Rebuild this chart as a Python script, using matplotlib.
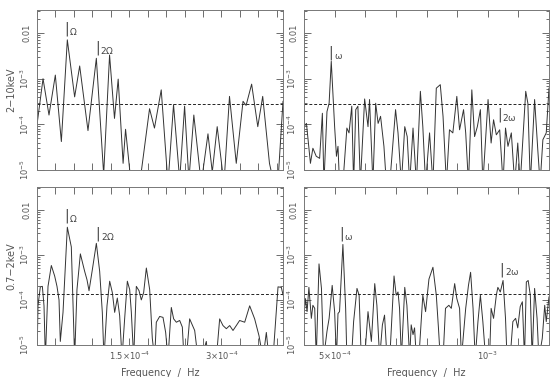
import numpy as np
import matplotlib
matplotlib.use('Agg')
import matplotlib.pyplot as plt
from matplotlib.ticker import FixedLocator, MultipleLocator, LogLocator, NullFormatter

# frequencies in units of 1e-4 Hz, power (5e-6 = below the axis)
f_hard_orb = [0.0, 0.098, 0.195, 0.298, 0.396, 0.493, 0.612, 0.694, 0.829, 0.965, 1.084, 1.18,
              1.26, 1.32, 1.40, 1.44, 1.53, 1.67, 1.83, 1.91, 2.02, 2.13, 2.22, 2.32, 2.40, 2.47,
              2.55, 2.67, 2.78, 2.85, 2.93, 3.04, 3.13, 3.24, 3.35, 3.40, 3.49, 3.59, 3.67, 3.78,
              3.84, 3.92, 4.0]
p_hard_orb = [9.8e-5, 1.0e-3, 1.6e-4, 1.2e-3, 4.2e-5, 7.1e-3, 4.0e-4, 1.9e-3, 7.3e-5, 2.8e-3, 8e-6, 3.3e-3,
              1.35e-4, 9.8e-4, 1.4e-5, 7.8e-5, 5e-6, 5e-6, 2.2e-4, 8.3e-5, 5.7e-4, 5e-6, 2.7e-4, 6e-6, 2.5e-4, 6e-6,
              1.6e-4, 5e-6, 6.2e-5, 9e-6, 8.9e-5, 5e-6, 4.1e-4, 1.4e-5, 3.2e-4, 2.6e-4, 7.6e-4, 8.9e-5, 4.1e-4, 1.4e-5,
              6e-6, 6e-6, 3.2e-4]

f_hard_spin = [4.00, 4.08, 4.21, 4.29, 4.40, 4.51, 4.60, 4.65, 4.75, 4.82, 4.89, 5.00, 5.06, 5.11, 5.16,
               5.27, 5.40, 5.47, 5.56, 5.62, 5.69, 5.76, 5.84, 5.98, 6.09, 6.14, 6.25, 6.34, 6.42, 6.50,
               6.61, 6.69, 6.80, 6.99, 7.07, 7.18, 7.29, 7.37, 7.45, 7.56, 7.67, 7.80, 7.88, 7.97, 8.10,
               8.21, 8.32, 8.45, 8.54, 8.65, 8.75, 8.86, 8.99, 9.08, 9.21, 9.28, 9.37, 9.48, 9.57, 9.66,
               9.76, 9.84, 10.01, 10.11, 10.19, 10.28, 10.39, 10.50, 10.58, 10.66, 10.77, 10.88, 10.98,
               11.06, 11.24, 11.31, 11.39, 11.53, 11.64, 11.71, 11.80, 11.91, 12.00]
p_hard_spin = [8.9e-5, 1.05e-4, 1.4e-5, 3.0e-5, 2.0e-5, 1.8e-5, 1.75e-4, 5e-6, 1.9e-4, 2.9e-4, 2.4e-3, 8.9e-5, 2.0e-5, 3.3e-5, 5e-6,
               5e-6, 8.3e-5, 6.5e-5, 2.5e-4, 5e-6, 2.1e-4, 2.5e-4, 5e-6, 3.6e-4, 8.9e-5, 3.5e-4, 5e-6, 2.9e-4, 1.05e-4, 1.5e-4,
               3.3e-5, 5e-6, 5e-6, 2.1e-4, 6.5e-5, 5e-6, 8.9e-5, 5.4e-5, 5e-6, 8.3e-5, 5e-6, 5.3e-4, 8.9e-5, 5e-6, 6.5e-5,
               5e-6, 6.2e-4, 7.4e-4, 1.5e-4, 5e-6, 7.6e-5, 6.5e-5, 4.1e-4, 7.6e-5, 2.1e-4, 6.5e-5, 5e-6, 5.7e-4, 5.4e-5, 8.9e-5,
               2.1e-4, 5e-6, 3.5e-4, 3.9e-5, 1.26e-4, 5.9e-5, 7.6e-5, 5e-6, 8.3e-5, 3.3e-5, 6.5e-5, 5e-6, 3.9e-5,
               5e-6, 5.3e-4, 2.9e-4, 5e-6, 3.5e-4, 2.4e-5, 5e-6, 4.6e-5, 6.5e-5, 6.2e-4]

f_soft_orb = [0.0, 0.016, 0.054, 0.087, 0.114, 0.136, 0.179, 0.233, 0.287, 0.325, 0.358, 0.379, 0.423,
              0.493, 0.558, 0.612, 0.650, 0.705, 0.775, 0.813, 0.846, 0.900, 0.965, 1.019, 1.062, 1.089,
              1.138, 1.182, 1.225, 1.263, 1.306, 1.344, 1.382, 1.425, 1.469, 1.507, 1.534, 1.572, 1.615,
              1.659, 1.696, 1.734, 1.778, 1.832, 1.875, 1.913, 1.940, 1.995, 2.049, 2.092, 2.130, 2.184,
              2.222, 2.266, 2.320, 2.363, 2.390, 2.428, 2.482, 2.564, 2.618, 2.672, 2.753, 2.780, 2.916,
              2.970, 3.024, 3.079, 3.133, 3.187, 3.241, 3.295, 3.377, 3.458, 3.539, 3.610, 3.675, 3.729,
              3.772, 3.837, 3.919, 3.973, 4.0]
p_soft_orb = [5e-6, 7.4e-5, 1.95e-4, 2.0e-4, 7.4e-5, 5e-6, 2.0e-4, 5.8e-4, 3.4e-4, 2.0e-4, 1.0e-4, 1.2e-5, 5.3e-5,
              4.1e-3, 1.5e-3, 5e-6, 1.7e-4, 1.05e-3, 4.3e-4, 2.8e-4, 1.6e-4, 4.7e-4, 1.8e-3, 4.3e-4, 5.3e-5, 5e-6,
              7.4e-5, 2.6e-4, 1.45e-4, 5.3e-5, 1.1e-4, 4.5e-5, 5e-6, 3.8e-5, 2.6e-4, 1.7e-4, 5.3e-5, 5e-6, 2.0e-4,
              1.6e-4, 1.0e-4, 1.45e-4, 5.1e-4, 1.7e-4, 1.4e-5, 5e-6, 3.2e-5, 4.3e-5, 4.1e-5, 1.9e-5, 5e-6, 6.8e-5,
              3.8e-5, 3.2e-5, 3.5e-5, 2.5e-5, 5e-6, 5e-6, 3.8e-5, 2.1e-5, 5e-6, 5e-6, 1.2e-5, 5e-6, 5e-6,
              3.8e-5, 2.7e-5, 2.3e-5, 2.7e-5, 2.1e-5, 2.7e-5, 3.5e-5, 3.2e-5, 7.4e-5, 3.8e-5, 1.6e-5, 5e-6, 1.9e-5,
              5e-6, 5e-6, 1.95e-4, 1.9e-4, 1.3e-4]

f_soft_spin = [4.00, 4.05, 4.10, 4.16, 4.24, 4.29, 4.35, 4.40, 4.49, 4.57, 4.64, 4.75, 4.82, 4.92, 5.00,
               5.06, 5.11, 5.16, 5.27, 5.36, 5.40, 5.55, 5.62, 5.73, 5.80, 5.87, 5.98, 6.09, 6.20, 6.31,
               6.38, 6.47, 6.56, 6.63, 6.71, 6.80, 6.94, 7.01, 7.07, 7.12, 7.18, 7.29, 7.36, 7.45, 7.50,
               7.56, 7.61, 7.67, 7.75, 7.88, 7.97, 8.08, 8.21, 8.32, 8.39, 8.45, 8.54, 8.62, 8.73, 8.81,
               8.92, 8.99, 9.08, 9.14, 9.28, 9.37, 9.44, 9.52, 9.59, 9.68, 9.76, 9.84, 9.93, 10.06, 10.11,
               10.19, 10.28, 10.33, 10.41, 10.50, 10.58, 10.63, 10.73, 10.82, 10.91, 10.98, 11.06, 11.13,
               11.20, 11.26, 11.32, 11.39, 11.45, 11.53, 11.61, 11.67, 11.78, 11.86, 11.91, 12.00]
p_soft_spin = [4.6e-5, 1.07e-4, 5.5e-5, 1.9e-4, 3.9e-5, 7.6e-5, 6.5e-5, 5e-6, 6.3e-4, 1.8e-4, 5e-6, 2.0e-5, 3.9e-5,
               2.1e-4, 5.5e-5, 5e-6, 5.0e-5, 5.5e-5, 1.7e-3, 6.5e-5, 5e-6, 5e-6, 3.3e-5, 1.8e-4, 1.27e-4, 5e-6,
               5e-6, 5.5e-5, 1.2e-5, 2.3e-4, 7.6e-5, 5e-6, 2.8e-5, 4.6e-5, 5e-6, 5e-6, 3.4e-4, 1.27e-4, 1.5e-4,
               6.5e-5, 5e-6, 1.9e-4, 7.6e-5, 5e-6, 2.8e-5, 1.7e-5, 2.4e-5, 5e-6, 5e-6, 1.27e-4, 5.5e-5, 2.9e-4,
               5.3e-4, 1.27e-4, 2.4e-5, 5e-6, 5e-6, 6.5e-5, 7.6e-5, 6.5e-5, 2.3e-4, 1.07e-4, 6.5e-5, 5e-6, 6.5e-5,
               2.1e-4, 4.1e-4, 6.5e-5, 5e-6, 3.3e-5, 1.27e-4, 3.3e-5, 5e-6, 5e-6, 6.5e-5, 3.9e-5, 1.27e-4, 1.9e-4,
               1.5e-4, 2.7e-4, 3.9e-5, 5e-6, 5e-6, 3.3e-5, 3.9e-5, 2.4e-5, 7.1e-5, 9.1e-5, 5e-6, 2.5e-4, 2.7e-4,
               1.27e-4, 5e-6, 1.8e-4, 3.9e-5, 5e-6, 1.4e-5, 7.6e-5, 3.3e-5, 1.17e-4]

level_hard = 2.8e-4
level_soft = 1.35e-4

band_labels = ['2\u221210keV', '0.7\u22122keV']
xlab = 'Frequency  /  Hz'

# (freq in 1e-4 Hz, power at foot of the bar, subscript)
notes_hard_orb = [(0.48, 1.0e-2, r'$\Omega$'), (0.98, 3.8e-3, r'$2\Omega$')]
notes_hard_spin = [(4.88, 2.9e-3, r'$\omega$'), (10.39, 1.3e-4, r'$2\omega$')]
notes_soft_orb = [(0.48, 5.8e-3, r'$\Omega$'), (0.99, 2.3e-3, r'$2\Omega$')]
notes_soft_spin = [(5.22, 2.3e-3, r'$\omega$'), (10.46, 3.8e-4, r'$2\omega$')]

grey = '#555555'
plt.rcParams['font.size'] = 6
plt.rcParams['text.color'] = grey
plt.rcParams['mathtext.default'] = 'regular'

fig = plt.figure(figsize=(5.5, 3.77), dpi=100)
W, H = 550.0, 377.0
boxes = [(37, 10, 246, 160), (304, 10, 245, 160), (37, 187, 246, 158), (304, 187, 245, 158)]
axs = [fig.add_axes([x / W, 1 - (y + h) / H, w / W, h / H]) for (x, y, w, h) in boxes]

series = [(f_hard_orb, p_hard_orb, level_hard, notes_hard_orb, (0, 4)),
          (f_hard_spin, p_hard_spin, level_hard, notes_hard_spin, (4, 12)),
          (f_soft_orb, p_soft_orb, level_soft, notes_soft_orb, (0, 4)),
          (f_soft_spin, p_soft_spin, level_soft, notes_soft_spin, (4, 12))]

def ylab_fmt(v, pos):
    if abs(v - 0.01) < 1e-9:
        return '0.01'
    return r'$10^{%d}$' % round(np.log10(v))

for i, ax in enumerate(axs):
    f, p, lev, notes, xr = series[i]
    ax.plot(np.array(f) * 1e-4, p, color='#333333', lw=0.7)
    ax.axhline(lev, color='#222222', lw=0.7, ls=(0, (3, 2)))
    for (nx, ny, sub) in notes:
        ax.annotate('|', (nx * 1e-4, ny), xytext=(0, -2), textcoords='offset points',
                    fontsize=10, color='#444444', ha='center', va='bottom')
        ax.annotate(sub, (nx * 1e-4, ny), xytext=(2, -2.5), textcoords='offset points',
                    fontsize=6.5, color='#444444', ha='left', va='bottom')
    ax.set_yscale('log')
    ax.set_ylim(1e-5, 3.2e-2)
    ax.set_xlim(xr[0] * 1e-4, xr[1] * 1e-4)
    ax.yaxis.set_major_locator(FixedLocator([1e-5, 1e-4, 1e-3, 1e-2]))
    ax.yaxis.set_minor_locator(LogLocator(base=10, subs=np.arange(2, 10)))
    ax.yaxis.set_minor_formatter(NullFormatter())
    ax.yaxis.set_major_formatter(plt.FuncFormatter(ylab_fmt))
    for lbl in ax.get_yticklabels():
        lbl.set_rotation(90)
        lbl.set_va('center')
    ax.tick_params(which='both', direction='in', top=True, right=True, colors=grey,
                   labelsize=6, width=0.6)
    ax.tick_params(which='major', length=5)
    ax.tick_params(which='minor', length=2.5)
    ax.tick_params(axis='y', pad=4)
    for s in ax.spines.values():
        s.set_color('#777777')
        s.set_linewidth(0.7)
    if i in (0, 2):
        ax.xaxis.set_major_locator(MultipleLocator(3e-5))
        ax.set_ylabel(band_labels[i // 2], fontsize=7, color=grey, labelpad=2)
    else:
        ax.xaxis.set_major_locator(MultipleLocator(1e-4))
    if i < 2:
        ax.set_xticklabels([])
    else:
        if i == 2:
            lab = {1.5e-4: r'1.5$\times$10$^{-4}$', 3e-4: r'3$\times$10$^{-4}$'}
        else:
            lab = {5e-4: r'5$\times$10$^{-4}$', 1e-3: r'10$^{-3}$'}
        def xfmt(v, pos, lab=lab):
            for k, t in lab.items():
                if abs(v - k) < 1e-9:
                    return t
            return ''
        ax.xaxis.set_major_formatter(plt.FuncFormatter(xfmt))
        ax.set_xlabel(xlab, fontsize=7, color=grey, labelpad=4)

fig.savefig('out.png', dpi=100)
